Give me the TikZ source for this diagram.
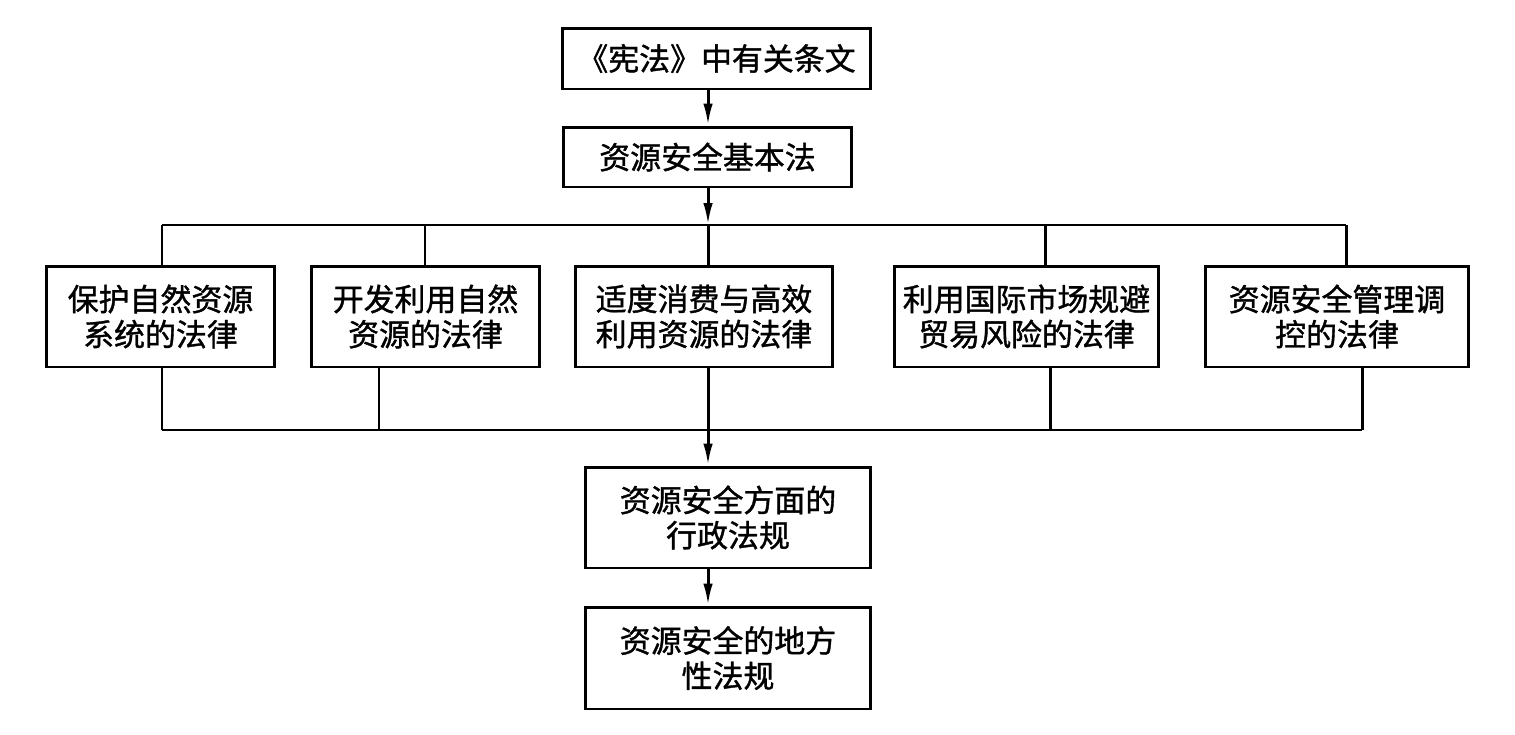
\documentclass[tikz,border=0pt]{standalone}
\usepackage{fontspec}
\newfontfamily\cjk{Noto Sans CJK SC}[FakeBold=1.2]
\usetikzlibrary{arrows.meta}
\begin{document}
\begin{tikzpicture}[x=0.02cm,y=-0.02cm,
  box/.style={draw,line width=1.7pt,inner sep=0pt,align=center,
    font=\cjk\fontsize{17.6pt}{20pt}\selectfont},
  ln/.style={line width=1.7pt},
  arr/.style={line width=1.7pt,-{Latex[length=0.44cm,width=0.19cm]}}]
\useasboundingbox (0,0) rectangle (1515,734);
\node[box,minimum width=6.18cm,minimum height=1.22cm] (top) at (716.5,58.5) {《宪法》中有关条文};
\node[box,minimum width=5.78cm,minimum height=1.2cm] (basic) at (707.5,157) {资源安全基本法};
\node[box,minimum width=4.58cm,minimum height=2.02cm] (b1) at (160.5,316.5) {保护自然资源\\系统的法律};
\node[box,minimum width=4.58cm,minimum height=2.02cm] (b2) at (425.5,316.5) {开发利用自然\\资源的法律};
\node[box,minimum width=5.16cm,minimum height=2.02cm] (b3) at (704,316.5) {适度消费与高效\\利用资源的法律};
\node[box,minimum width=5.3cm,minimum height=2.02cm] (b4) at (1026.5,316.5) {利用国际市场规避\\贸易风险的法律};
\node[box,minimum width=5.28cm,minimum height=2.02cm] (b5) at (1337,316.5) {资源安全管理调\\控的法律};
\node[box,minimum width=5.72cm,minimum height=2.02cm] (b6) at (728,517.5) {资源安全方面的\\行政法规};
\node[box,minimum width=5.72cm,minimum height=2.04cm] (b7) at (728,658) {资源安全的地方\\性法规};
\coordinate (t1) at (162,225);
\coordinate (t2) at (425,225);
\coordinate (t3) at (708,225);
\coordinate (t4) at (1045,225);
\coordinate (t5) at (1346,225);
\coordinate (u1) at (162,430);
\coordinate (u2) at (379,430);
\coordinate (u3) at (708,430);
\coordinate (u4) at (1050,430);
\coordinate (u5) at (1362,430);
\draw[arr] (top.south -| t3) -- (basic.north -| t3);
\draw[arr] (basic.south -| t3) -- (t3);
\draw[ln] (t1) -- (t5);
\foreach \i in {1,...,5}{\draw[ln] (t\i) -- (t\i |- b\i.north);}
\draw[ln] (u1) -- (u5);
\foreach \i in {1,2,4,5}{\draw[ln] (b\i.south -| u\i) -- (u\i);}
\draw[arr] (b3.south -| u3) -- (b6.north -| u3);
\draw[arr] (b6.south -| t3) -- (b7.north -| t3);
\end{tikzpicture}
\end{document}
